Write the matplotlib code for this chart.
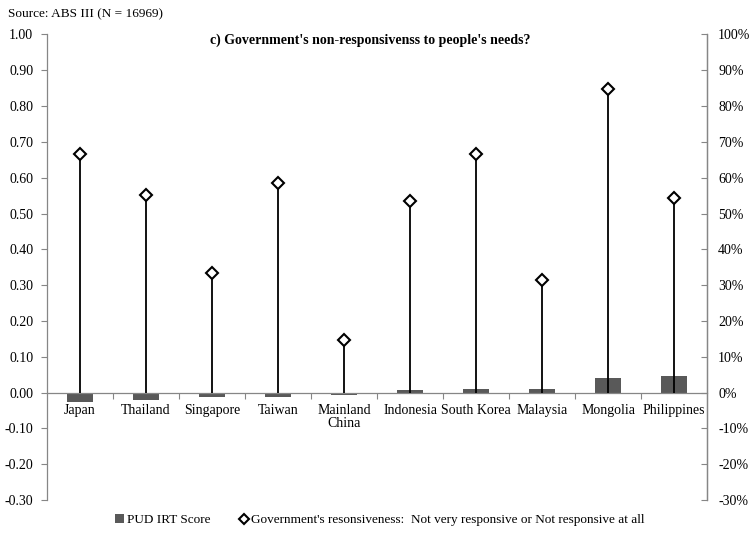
import matplotlib
matplotlib.use('Agg')
import matplotlib.pyplot as plt
from matplotlib.lines import Line2D
from matplotlib.patches import Patch
from matplotlib.ticker import FuncFormatter, FixedLocator
import numpy as np

plt.rcParams['font.family'] = ['Liberation Serif', 'DejaVu Serif']

countries = ['Japan', 'Thailand', 'Singapore', 'Taiwan', 'Mainland\nChina',
             'Indonesia', 'South Korea', 'Malaysia', 'Mongolia', 'Philippines']
# PUD IRT score per country (left axis)
pud_scores = [-0.027, -0.022, -0.013, -0.011, -0.0065, 0.0075, 0.010, 0.010, 0.040, 0.047]
# share answering "not very responsive" or "not responsive at all" (right axis)
non_responsive = [0.665, 0.551, 0.333, 0.584, 0.147, 0.535, 0.665, 0.315, 0.848, 0.543]

left_ticks = [-0.3, -0.2, -0.1, 0.0, 0.1, 0.2, 0.3, 0.4, 0.5, 0.6, 0.7, 0.8, 0.9, 1.0]

axis_grey = '#868686'
bar_grey = '#595959'

fig = plt.figure(figsize=(7.49, 5.37), dpi=100)
ax = fig.add_axes([0.0628, 0.0689, 0.8812, 0.8669])
x = np.arange(len(countries))

ax.bar(x, pud_scores, width=0.39, color=bar_grey, zorder=2)

ax.set_xlim(-0.5, len(countries) - 0.5)
ax.set_ylim(-0.3, 1.0)
ax.set_yticks(left_ticks)
ax.yaxis.set_major_formatter(FuncFormatter(lambda v, p: '%.2f' % v))
ax.tick_params(axis='y', direction='out', length=4, width=0.8, color=axis_grey,
               labelsize=10, pad=6)

# category axis sits on zero, tick marks between categories
ax.spines['bottom'].set_position(('data', 0))
ax.xaxis.set_major_locator(FixedLocator(np.arange(0.5, len(countries) - 1, 1.0)))
ax.xaxis.set_minor_locator(FixedLocator(x))
ax.set_xticklabels([], minor=False)
ax.set_xticklabels(countries, minor=True)
ax.tick_params(axis='x', which='major', direction='out', length=4, width=0.8,
               color=axis_grey)
ax.tick_params(axis='x', which='minor', length=0, labelsize=10, pad=8)
for lbl in ax.get_xticklabels(minor=True):
    lbl.set_linespacing(1.0)

for side in ['top']:
    ax.spines[side].set_visible(False)
for side in ['left', 'right', 'bottom']:
    ax.spines[side].set_color(axis_grey)
    ax.spines[side].set_linewidth(0.9)

# secondary percentage axis with stems and diamonds
ax2 = ax.twinx()
ax2.set_ylim(-0.3, 1.0)
ax2.set_yticks(left_ticks)
ax2.yaxis.set_major_formatter(FuncFormatter(lambda v, p: '%d%%' % round(v * 100)))
ax2.tick_params(axis='y', direction='in', length=4, width=0.8, color=axis_grey,
                labelsize=10, pad=8)
for side in ['top', 'bottom', 'left']:
    ax2.spines[side].set_visible(False)
ax2.spines['right'].set_color(axis_grey)
ax2.spines['right'].set_linewidth(0.9)

ax2.vlines(x, 0, non_responsive, color='black', linewidth=1.3, zorder=3)
ax2.plot(x, non_responsive, linestyle='none', marker='D', markersize=6.5,
         markerfacecolor='white', markeredgecolor='black', markeredgewidth=1.5,
         zorder=4)

fig.text(370 / 749, 1 - 40 / 537, "c) Government's non-responsivenss to people's needs?",
         ha='center', va='center', fontsize=10, fontweight='bold')
fig.text(8 / 749, 1 - 14 / 537, 'Source: ABS III (N = 16969)', ha='left', va='center',
         fontsize=9.5)

handles = [Patch(facecolor=bar_grey, edgecolor='none'),
           Line2D([], [], linestyle='none', marker='D', markersize=5.5,
                  markerfacecolor='white', markeredgecolor='black', markeredgewidth=1.5)]
labels = ['PUD IRT Score',
          "Government's resonsiveness:  Not very responsive or Not responsive at all"]
fig.legend(handles, labels, loc='center', bbox_to_anchor=(380 / 749, 17 / 537), ncol=2,
           frameon=False, fontsize=9.5, handlelength=0.7, handleheight=0.7,
           handletextpad=0.2, columnspacing=2.2)

fig.savefig('out.png', dpi=100)
